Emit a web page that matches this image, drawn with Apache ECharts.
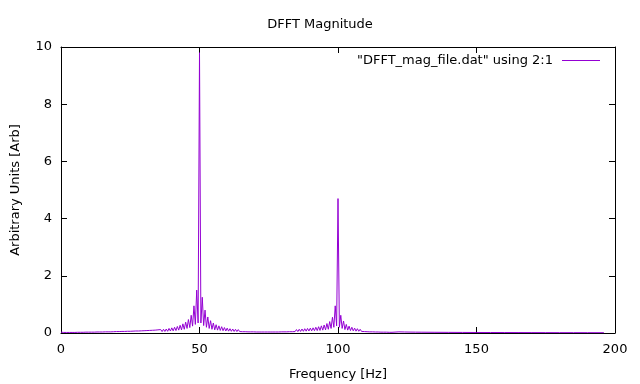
<!DOCTYPE html>
<html><head><meta charset="utf-8">
<script src="https://cdn.jsdelivr.net/npm/echarts@6/dist/echarts.min.js"></script>
<style>html,body{margin:0;padding:0;background:#fff}#c{width:640px;height:384px}</style>
</head><body><div id="c"></div>
<script>
var titleText = 'DFFT Magnitude';
var seriesName = '"DFFT_mag_file.dat" using 2:1';
var xName = 'Frequency [Hz]';
var yName = 'Arbitrary Units [Arb]';
var xTicks = [0, 50, 100, 150, 200];
var yTicks = [0, 2, 4, 6, 8, 10];

var freq = [
  0,1,2,3,4,5,6,7,8,9,10,11,12,13,14,15,16,17,18,19,
  20,20.5,21,21.5,22,22.5,23,23.5,24,24.5,
  25,25.5,26,26.5,27,27.5,28,28.5,29,29.5,
  30,30.5,31,31.5,32,32.5,33,33.5,34,34.5,
  35,35.5,36,36.5,37,37.5,38,38.5,39,39.5,
  40,40.5,41,41.5,42,42.5,43,43.5,44,44.5,
  45,45.5,46,46.5,47,47.5,48,48.5,49,49.5,
  50,50.5,51,51.5,52,52.5,53,53.5,54,54.5,
  55,55.5,56,56.5,57,57.5,58,58.5,59,59.5,
  60,60.5,61,61.5,62,62.5,63,63.5,64,64.5,
  65,65.5,66,66.5,67,67.5,68,68.5,69,69.5,
  70,70.5,71,71.5,72,72.5,73,73.5,74,74.5,
  75,75.5,76,76.5,77,77.5,78,78.5,79,79.5,
  80,80.5,81,81.5,82,82.5,83,83.5,84,84.5,
  85,85.5,86,86.5,87,87.5,88,88.5,89,89.5,
  90,90.5,91,91.5,92,92.5,93,93.5,94,94.5,
  95,95.5,96,96.5,97,97.5,98,98.5,99,99.5,
  100,100.5,101,101.5,102,102.5,103,103.5,104,104.5,
  105,105.5,106,106.5,107,107.5,108,108.5,109,109.5,
  110,110.5,111,111.5,112,112.5,113,113.5,114,114.5,
  115,115.5,116,116.5,117,117.5,118,118.5,119,119.5,
  120,122,124,126,128,130,135,140,145,150,155,160,165,170,175,180,185,190,196
];
var mag = [
  0.03,0.02,0.02,0.02,0.02,0.02,0.025,0.025,0.025,0.03,0.03,0.03,0.03,0.035,0.035,0.035,0.04,0.04,0.04,0.045,
  0.05,0.02,0.05,0.02,0.055,0.02,0.055,0.025,0.06,0.025,
  0.06,0.025,0.065,0.03,0.07,0.03,0.07,0.03,0.075,0.035,
  0.08,0.035,0.085,0.035,0.09,0.04,0.095,0.04,0.1,0.045,
  0.11,0.05,0.12,0.05,0.13,0.055,0.14,0.06,0.16,0.07,
  0.18,0.075,0.2,0.085,0.23,0.1,0.27,0.11,0.32,0.13,
  0.38,0.16,0.47,0.19,0.62,0.24,0.95,0.3,1.5,0.35,
  9.8,0.35,1.25,0.26,0.8,0.2,0.56,0.16,0.43,0.13,
  0.35,0.11,0.29,0.1,0.25,0.09,0.22,0.08,0.19,0.07,
  0.17,0.065,0.15,0.06,0.14,0.055,0.13,0.05,0.12,0.05,
  0.11,0.045,0.1,0.045,0.095,0.04,0.09,0.04,0.085,0.04,
  0.08,0.035,0.075,0.035,0.075,0.035,0.07,0.035,0.07,0.035,
  0.07,0.035,0.07,0.035,0.075,0.035,0.075,0.035,0.08,0.04,
  0.085,0.04,0.09,0.04,0.095,0.045,0.1,0.045,0.11,0.05,
  0.12,0.05,0.13,0.055,0.14,0.06,0.15,0.065,0.16,0.07,
  0.17,0.075,0.18,0.08,0.2,0.085,0.22,0.09,0.25,0.1,
  0.28,0.11,0.33,0.13,0.4,0.16,0.55,0.2,0.95,0.25,
  4.7,0.2,0.62,0.16,0.42,0.12,0.3,0.1,0.24,0.085,
  0.2,0.075,0.17,0.065,0.15,0.06,0.13,0.055,0.12,0.05,
  0.11,0.045,0.1,0.04,0.09,0.04,0.085,0.035,0.08,0.035,
  0.075,0.03,0.07,0.03,0.065,0.03,0.06,0.025,0.055,0.025,
  0.05,0.04,0.035,0.032,0.03,0.028,0.025,0.022,0.02,0.018,0.017,0.016,0.015,0.014,0.013,0.012,0.012,0.011,0.01
];

var data = freq.map(function (f, i) { return [f, mag[i]]; });
var font = 'DejaVu Sans';
var fs = 13;
var lineColor = '#9400d3';

var chart = echarts.init(document.getElementById('c'), null, {renderer: 'canvas'});
var axisCommon = {
  axisLine: {show: true, onZero: false, lineStyle: {color: '#000', width: 1}},
  axisTick: {show: true, inside: true, length: 6, lineStyle: {color: '#000'}},
  splitLine: {show: false}
};
chart.setOption({
  animation: false,
  backgroundColor: '#fff',
  textStyle: {fontFamily: font},
  title: {text: titleText, left: 'center', top: 13,
    textStyle: {fontFamily: font, fontSize: fs, fontWeight: 'normal', color: '#000'}},
  legend: {
    data: [seriesName], right: 40, top: 54, align: 'right', padding: 0,
    icon: 'rect', itemWidth: 38, itemHeight: 1, itemGap: 0,
    itemStyle: {color: lineColor},
    textStyle: {fontFamily: font, fontSize: fs, color: '#000', padding: [0, 4, 0, 0]}
  },
  grid: {left: 61, right: 25, top: 47, bottom: 51, containLabel: false, outerBoundsMode: 'none'},
  xAxis: [
    Object.assign({type: 'value', position: 'bottom', min: xTicks[0], max: xTicks[xTicks.length - 1],
      interval: xTicks[1] - xTicks[0],
      name: xName, nameLocation: 'middle', nameGap: 35,
      nameTextStyle: {fontFamily: font, fontSize: fs, color: '#000'},
      axisLabel: {margin: 10, fontFamily: font, fontSize: fs, color: '#000'}}, axisCommon),
    Object.assign({type: 'value', position: 'top', min: xTicks[0], max: xTicks[xTicks.length - 1],
      interval: xTicks[1] - xTicks[0], axisLabel: {show: false}}, axisCommon)
  ],
  yAxis: [
    Object.assign({type: 'value', position: 'left', min: yTicks[0], max: yTicks[yTicks.length - 1],
      interval: yTicks[1] - yTicks[0],
      name: yName, nameLocation: 'middle', nameGap: 39,
      nameTextStyle: {fontFamily: font, fontSize: fs, color: '#000'},
      axisLabel: {margin: 9, fontFamily: font, fontSize: fs, color: '#000'}}, axisCommon),
    Object.assign({type: 'value', position: 'right', min: yTicks[0], max: yTicks[yTicks.length - 1],
      interval: yTicks[1] - yTicks[0], axisLabel: {show: false}}, axisCommon)
  ],
  series: [{
    name: seriesName, type: 'line', data: data, showSymbol: false, symbol: 'none',
    xAxisIndex: 0, yAxisIndex: 0,
    lineStyle: {color: lineColor, width: 1}, itemStyle: {color: lineColor},
    clip: true
  }]
});
</script></body></html>
